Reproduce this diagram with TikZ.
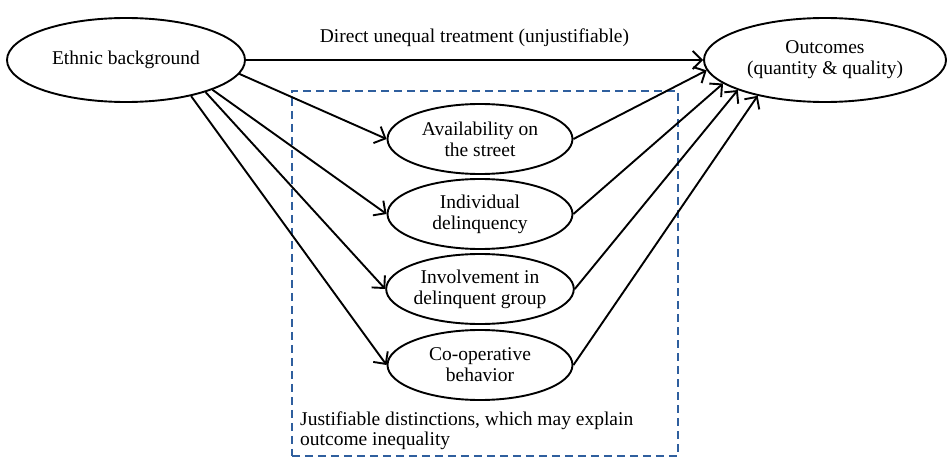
\documentclass[tikz,border=0pt]{standalone}
\usepackage{fontspec}
\setmainfont{Liberation Serif}
\usetikzlibrary{shapes.geometric,arrows.meta}
\definecolor{boxblue}{HTML}{2F5F9E}
\tikzset{
  oval/.style={ellipse,draw,line width=1.9pt,inner sep=0pt,align=center,
    font=\fontsize{19.5}{21}\selectfont},
  bigoval/.style={oval,minimum width=238pt,minimum height=84pt},
  smalloval/.style={oval,minimum width=185pt,minimum height=70pt},
  link/.style={line width=1.9pt,-{Straight Barb[length=9pt,width=18pt,line width=1.9pt]}},
  lbl/.style={font=\fontsize{19.5}{21}\selectfont,inner sep=0pt},
  justbox/.style={draw=boxblue,line width=1.9pt,dash pattern=on 8pt off 5pt}
}
\begin{document}
\begin{tikzpicture}[x=1pt,y=-1pt]
\useasboundingbox (0,0) rectangle (948,460);
\node[justbox,minimum width=386pt,minimum height=365pt,inner sep=0pt,anchor=north west] (box) at (291,90) {};
\node[bigoval] (eth) at (126,60) {Ethnic background};
\node[bigoval,minimum width=242pt] (out) at (825,60) {Outcomes\\(quantity \& quality)};
\node[smalloval] (av) at (480,139) {Availability on\\the street};
\node[smalloval] (ind) at (480,214) {Individual\\delinquency};
\node[smalloval] (inv) at (480,289) {Involvement in\\delinquent group};
\node[smalloval] (coop) at (480,365) {Co-operative\\behavior};
\draw[link] (eth.east) -- node[lbl,above=12pt] (direct) {Direct unequal treatment (unjustifiable)} (out.west);
\draw[link] (eth.-7.5) -- (av.west);
\draw[link] (eth.-19) -- (ind.west);
\draw[link] (eth.-22.6) -- (inv.west);
\draw[link] (eth.-29) -- (coop.west);
\draw[link] (av.east) -- (out.185);
\draw[link] (ind.east) -- (out.193);
\draw[link] (inv.east) -- (out.199);
\draw[link] (coop.east) -- (out.208);
\node[lbl,align=left,anchor=base west,font=\fontsize{19.5}{20}\selectfont] (just) at (300,445) {Justifiable distinctions, which may explain\\outcome inequality};
\end{tikzpicture}
\end{document}
